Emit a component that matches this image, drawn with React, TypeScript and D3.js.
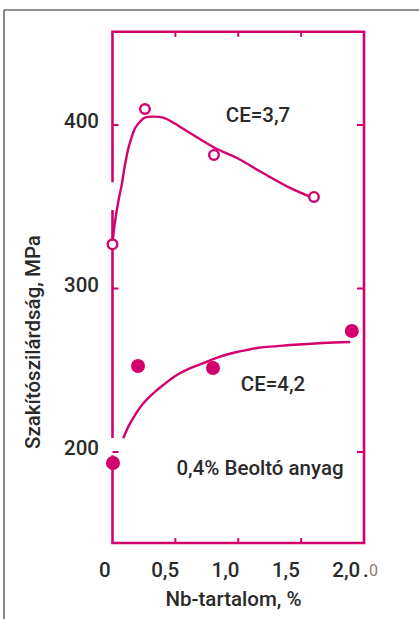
import React from "react";
import * as d3 from "d3";

// ---- data ----
const xTickValues = [0, 0.5, 1.0, 1.5, 2.0];
const xTickLabels = ["0", "0,5", "1,0", "1,5", "2,0"];
const yTickValues = [200, 300, 400];
const yTickLabels = ["200", "300", "400"];

// CE=3,7 measured points (open circles)
const ce37X = [0.0, 0.258, 0.807, 1.602];
const ce37Y = [327, 409.8, 381.7, 356];
// CE=3,7 fitted curve
const ce37CurveX = [0.0, 0.02, 0.046, 0.073, 0.099, 0.126, 0.153, 0.179, 0.219, 0.258, 0.324, 0.404, 0.471, 0.523, 0.616, 0.815, 0.99, 1.197, 1.412, 1.594];
const ce37CurveY = [328, 340.9, 353.1, 363.3, 375.5, 385.7, 392.8, 398, 402, 404.5, 405.1, 404.5, 402, 399.6, 395.1, 385.9, 379.8, 370.6, 361.5, 355.4];

// CE=4,2 measured points (filled circles)
const ce42X = [0.004, 0.203, 0.799, 1.903];
const ce42Y = [193.3, 252.6, 251.4, 274];
// CE=4,2 fitted curve
const ce42CurveX = [0.086, 0.126, 0.179, 0.245, 0.324, 0.404, 0.511, 0.616, 0.722, 0.855, 1.0, 1.149, 1.412, 1.67, 1.89];
const ce42CurveY = [208.4, 215.5, 222.6, 229.8, 235.9, 241.0, 247.1, 251.2, 254.3, 258.3, 261.3, 263.6, 265.4, 266.7, 267.3];

// gaps in the left frame line (data units)
const leftGaps = [
  [348, 365],
  [198, 208.6],
];

const COLOR = "#d4006e";
const TEXT = "#2a2a2a";
const FONT = "Roboto, 'Liberation Sans', Arial, sans-serif";
const FW = 500;

export default function App() {
  const W = 419;
  const H = 619;
  const x = d3.scaleLinear().domain([0, 2]).range([112.5, 364]);
  const xLab = d3.scaleLinear().domain([0, 2]).range([104.8, 346.2]);
  const y = d3.scaleLinear().domain([200, 400]).range([452, 125]);
  const yTopVal = 457;
  const yBotVal = 144.3;
  const x0 = x(0), x1 = x(2), yT = y(yTopVal), yB = y(yBotVal);

  const line = d3
    .line<[number, number]>()
    .x((d) => x(d[0]))
    .y((d) => y(d[1]))
    .curve(d3.curveCatmullRom.alpha(0.5));

  const c37 = ce37CurveX.map((v, i) => [v, ce37CurveY[i]] as [number, number]);
  const c42 = ce42CurveX.map((v, i) => [v, ce42CurveY[i]] as [number, number]);

  // left frame segments with gaps
  const segs: [number, number][] = [];
  let cur = yTopVal;
  const gapsSorted = [...leftGaps].sort((a, b) => b[1] - a[1]);
  for (const g of gapsSorted) {
    segs.push([cur, g[1]]);
    cur = g[0];
  }
  segs.push([cur, yBotVal]);

  const innerTicks = [0.5, 1.0, 1.5];
  const SW = 2.6;

  const txt = { fontFamily: FONT, fontSize: 20.5, fontWeight: FW, fill: TEXT } as const;

  return (
    <svg
      width={W}
      height={H}
      viewBox={`0 0 ${W} ${H}`}
      style={{ position: "absolute", left: 0, top: 0, display: "block", background: "#fff" }}
    >
      {/* outer page border */}
      <line x1={4} y1={10} x2={W} y2={10} stroke="#6a6a6a" strokeWidth={1.6} />
      <line x1={4} y1={10} x2={4} y2={H} stroke="#6a6a6a" strokeWidth={1.6} />

      {/* frame */}
      <line x1={x0 - SW / 2} y1={yT} x2={x1 + SW / 2} y2={yT} stroke={COLOR} strokeWidth={SW} />
      <line x1={x1} y1={yT} x2={x1} y2={yB} stroke={COLOR} strokeWidth={SW} />
      <line x1={x0 - SW / 2} y1={yB} x2={x1 + SW / 2} y2={yB} stroke={COLOR} strokeWidth={SW} />
      {segs.map((s, i) => (
        <line key={"ls" + i} x1={x0} y1={y(s[0])} x2={x0} y2={y(s[1])} stroke={COLOR} strokeWidth={SW} />
      ))}

      {/* ticks */}
      {yTickValues.map((v) => (
        <g key={"yt" + v}>
          <line x1={x0} x2={x0 + 6} y1={y(v)} y2={y(v)} stroke={COLOR} strokeWidth={2} />
          <line x1={x1} x2={x1 - 7} y1={y(v)} y2={y(v)} stroke={COLOR} strokeWidth={2} />
        </g>
      ))}
      {innerTicks.map((v) => (
        <g key={"xt" + v}>
          <line x1={x(v)} x2={x(v)} y1={yT} y2={yT + 5} stroke={COLOR} strokeWidth={2} />
          <line x1={x(v)} x2={x(v)} y1={yB} y2={yB - 5} stroke={COLOR} strokeWidth={2} />
        </g>
      ))}

      {/* curves */}
      <path d={line(c37) || ""} fill="none" stroke={COLOR} strokeWidth={2.4} />
      <path d={line(c42) || ""} fill="none" stroke={COLOR} strokeWidth={2.4} />

      {/* points */}
      {ce37X.map((v, i) => (
        <circle key={"o" + i} cx={x(v)} cy={y(ce37Y[i])} r={4.8} fill="#fff" stroke={COLOR} strokeWidth={2.4} />
      ))}
      {ce42X.map((v, i) => (
        <circle key={"f" + i} cx={x(v)} cy={y(ce42Y[i])} r={7} fill={COLOR} />
      ))}

      {/* y tick labels */}
      {yTickValues.map((v, i) => (
        <text key={"yl" + v} x={99} y={y(v) + 3} textAnchor="end" {...txt}>
          {yTickLabels[i]}
        </text>
      ))}

      {/* x tick labels */}
      {xTickValues.map((v, i) => (
        <text key={"xl" + v} x={xLab(v)} y={577} textAnchor="middle" {...txt}>
          {xTickLabels[i]}
        </text>
      ))}
      <text x={363} y={577} {...txt}>.</text>
      <text x={369} y={576} fontFamily={FONT} fontSize={16} fill="#8a7a70">0</text>

      {/* axis titles */}
      <text x={233.5} y={606} textAnchor="middle" {...txt}>
        Nb-tartalom, %
      </text>
      <text transform={`translate(40,342) rotate(-90)`} textAnchor="middle" {...txt}>
        Szakítószilárdság, MPa
      </text>

      {/* annotations */}
      <text x={258} y={122} textAnchor="middle" {...txt}>
        CE=3,7
      </text>
      <text x={273} y={391} textAnchor="middle" {...txt}>
        CE=4,2
      </text>
      <text x={260} y={475} textAnchor="middle" {...txt}>
        0,4% Beoltó anyag
      </text>
    </svg>
  );
}
